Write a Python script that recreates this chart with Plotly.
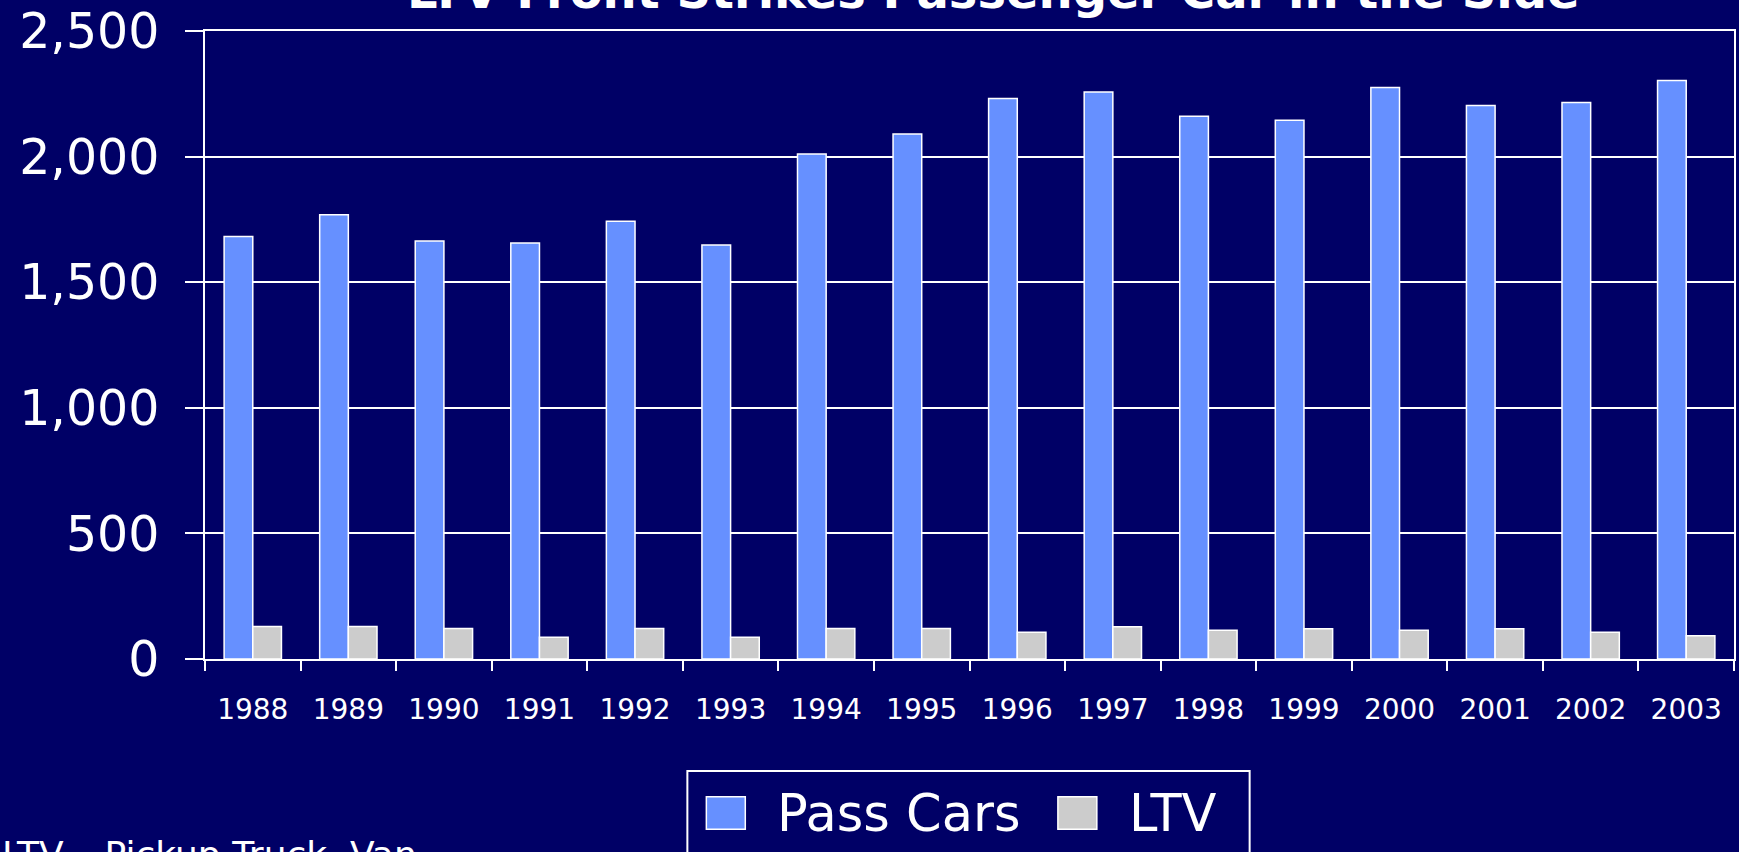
import plotly.graph_objects as go

# ---- data ----
years = ["1988", "1989", "1990", "1991", "1992", "1993", "1994", "1995",
         "1996", "1997", "1998", "1999", "2000", "2001", "2002", "2003"]
pass_cars = [1682, 1769, 1664, 1656, 1743, 1648, 2010, 2090,
             2231, 2257, 2161, 2145, 2275, 2203, 2215, 2303]
ltv = [129, 129, 121, 87, 121, 87, 121, 121,
       106, 128, 114, 120, 114, 120, 106, 93]
series_names = ["Pass Cars", "LTV"]
title_text = "LTV Front Strikes Passenger Car in the Side"
note_text = "LTV – Pickup Truck, Van"

# ---- styling ----
BG = "#000066"
BLUE = "#6690FF"
GRAY = "#CCCCCC"
FONT = "Verdana, DejaVu Sans, sans-serif"

W, H = 1739, 852
ML, MR, MT, MB = 205, 3, 25, 193
PL, PR, PT, PB = ML, W - MR, MT, H - MB


def px(x):
    return (x - PL) / (PR - PL)


def py(y):
    return (PB - y) / (PB - PT)


fig = go.Figure()
fig.add_trace(go.Bar(x=years, y=pass_cars, name=series_names[0],
                     marker=dict(color=BLUE, line=dict(color="white", width=1.5))))
fig.add_trace(go.Bar(x=years, y=ltv, name=series_names[1],
                     marker=dict(color=GRAY, line=dict(color="white", width=1.5))))

fig.update_layout(
    width=W, height=H,
    paper_bgcolor=BG, plot_bgcolor=BG,
    margin=dict(l=ML, r=MR, t=MT, b=MB, pad=0),
    barmode="group", bargap=0.4, bargroupgap=0,
    showlegend=False,
    font=dict(family=FONT, color="white"),
)
fig.update_xaxes(
    type="category", tickson="boundaries", ticks="outside", ticklen=10,
    tickcolor="white", tickwidth=1.5, showline=True, linecolor="white",
    linewidth=1.5, mirror=True, showgrid=False,
    tickfont=dict(size=28, color="white", family=FONT),
    ticklabelstandoff=25,
)
fig.update_yaxes(
    range=[0, 2500], dtick=500, tickformat=",", ticks="outside", ticklen=18,
    tickcolor="white", tickwidth=1.5, showline=True, linecolor="white",
    linewidth=1.5, mirror=True, showgrid=True, gridcolor="white", gridwidth=1.5,
    zeroline=False, ticklabeloverflow="allow",
    tickfont=dict(size=49, color="white", family=FONT),
    ticklabelstandoff=16,
)

# title (partly above the visible area, as in the original slide)
fig.add_annotation(text="<b>" + title_text + "</b>", xref="paper", yref="paper",
                   x=px(995), y=py(-15), xanchor="center", yanchor="middle",
                   showarrow=False, font=dict(size=48, color="white", family=FONT))

# footnote
fig.add_annotation(text=note_text, xref="paper", yref="paper",
                   x=px(0), y=py(856), xanchor="left", yanchor="middle",
                   showarrow=False, font=dict(size=36, color="white", family=FONT))

# custom legend
fig.add_shape(type="rect", xref="paper", yref="paper",
              x0=px(688), x1=px(1251), y0=py(772), y1=py(900),
              line=dict(color="white", width=2), fillcolor=BG, layer="above")
fig.add_shape(type="rect", xref="paper", yref="paper",
              x0=px(707), x1=px(746), y0=py(798), y1=py(831),
              line=dict(color="white", width=1.5), fillcolor=BLUE, layer="above")
fig.add_shape(type="rect", xref="paper", yref="paper",
              x0=px(1059), x1=px(1098), y0=py(798), y1=py(831),
              line=dict(color="white", width=1.5), fillcolor=GRAY, layer="above")
fig.add_annotation(text=series_names[0], xref="paper", yref="paper",
                   x=px(899), y=py(815), xanchor="center", yanchor="middle",
                   showarrow=False, font=dict(size=51, color="white", family=FONT))
fig.add_annotation(text=series_names[1], xref="paper", yref="paper",
                   x=px(1174), y=py(815), xanchor="center", yanchor="middle",
                   showarrow=False, font=dict(size=51, color="white", family=FONT))

fig.write_html(
    "out.html",
    config={"displayModeBar": False},
    post_script="document.body.style.margin='0';document.body.style.overflow='hidden';"
                "document.body.style.background='" + BG + "';",
)
